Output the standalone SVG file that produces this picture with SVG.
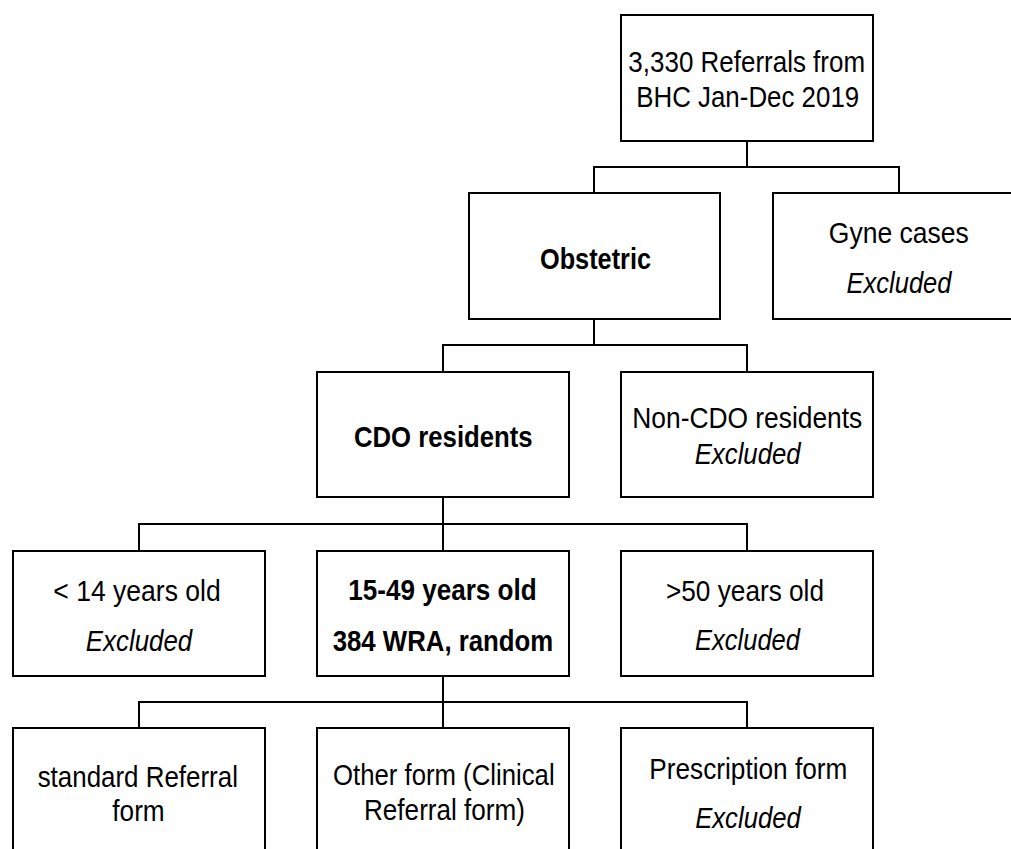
<svg xmlns="http://www.w3.org/2000/svg" width="1011" height="849" viewBox="0 0 1011 849">
<style>
.box{fill:#fff;stroke:#000;stroke-width:2}
.con{fill:none;stroke:#000;stroke-width:2}
text{font-family:"Liberation Sans",Arial,sans-serif;font-size:30px;fill:#000;text-anchor:middle}
.b{font-weight:bold}
.i{font-style:italic}
</style>
<rect width="1011" height="849" fill="#fff"/>
<g id="connectors">
<path class="con" d="M747 141V167M594 193V167H899V193"/>
<path class="con" d="M594 319V345M443 372V345H747V372"/>
<path class="con" d="M443 497V551M139 551V524H747V551"/>
<path class="con" d="M443 676V728M139 728V702H747V728"/>
</g>
<g id="referrals">
<rect class="box" x="621" y="15" width="252" height="126"/>
<text x="746.7" y="71.7" textLength="236.7" lengthAdjust="spacingAndGlyphs">3,330 Referrals from</text>
<text x="747.7" y="107.3" textLength="223" lengthAdjust="spacingAndGlyphs">BHC Jan-Dec 2019</text>
</g>
<g id="obstetric">
<rect class="box" x="469" y="193" width="251" height="126"/>
<text class="b" x="595.5" y="269" textLength="111" lengthAdjust="spacingAndGlyphs">Obstetric</text>
</g>
<g id="gyne">
<rect class="box" x="773" y="193" width="252" height="126"/>
<text x="898.8" y="243" textLength="140" lengthAdjust="spacingAndGlyphs">Gyne cases</text>
<text class="i" x="899" y="293" textLength="105" lengthAdjust="spacingAndGlyphs">Excluded</text>
</g>
<g id="cdo">
<rect class="box" x="317" y="372" width="252" height="125"/>
<text class="b" x="443.3" y="446.7" textLength="178.7" lengthAdjust="spacingAndGlyphs">CDO residents</text>
</g>
<g id="noncdo">
<rect class="box" x="621" y="372" width="252" height="125"/>
<text x="747.3" y="428.3" textLength="230" lengthAdjust="spacingAndGlyphs">Non-CDO residents</text>
<text class="i" x="747.7" y="464" textLength="106" lengthAdjust="spacingAndGlyphs">Excluded</text>
</g>
<g id="lt14">
<rect class="box" x="13" y="551" width="252" height="125"/>
<text x="137" y="600.7" textLength="167.4" lengthAdjust="spacingAndGlyphs">&lt; 14  years old</text>
<text class="i" x="139" y="650.7" textLength="106.3" lengthAdjust="spacingAndGlyphs">Excluded</text>
</g>
<g id="wra">
<rect class="box" x="317" y="551" width="252" height="125"/>
<text class="b" x="442.5" y="600" textLength="188.4" lengthAdjust="spacingAndGlyphs">15-49 years old</text>
<text class="b" x="443" y="650.7" textLength="220.6" lengthAdjust="spacingAndGlyphs">384 WRA, random</text>
</g>
<g id="gt50">
<rect class="box" x="621" y="551" width="252" height="125"/>
<text x="745" y="600.7" textLength="158" lengthAdjust="spacingAndGlyphs">&gt;50 years old</text>
<text class="i" x="747.5" y="650" textLength="105" lengthAdjust="spacingAndGlyphs">Excluded</text>
</g>
<g id="standard">
<rect class="box" x="13" y="728" width="252" height="140"/>
<text x="137.8" y="786.7" textLength="200.3" lengthAdjust="spacingAndGlyphs">standard Referral</text>
<text x="138.5" y="820.7" textLength="52.4" lengthAdjust="spacingAndGlyphs">form</text>
</g>
<g id="other">
<rect class="box" x="317" y="728" width="252" height="140"/>
<text x="443.8" y="785" textLength="221.6" lengthAdjust="spacingAndGlyphs">Other form (Clinical</text>
<text x="444.5" y="820" textLength="161" lengthAdjust="spacingAndGlyphs">Referral form)</text>
</g>
<g id="prescription">
<rect class="box" x="621" y="728" width="252" height="140"/>
<text x="748.3" y="779.3" textLength="198" lengthAdjust="spacingAndGlyphs">Prescription form</text>
<text class="i" x="748" y="828.3" textLength="105.7" lengthAdjust="spacingAndGlyphs">Excluded</text>
</g>
</svg>
